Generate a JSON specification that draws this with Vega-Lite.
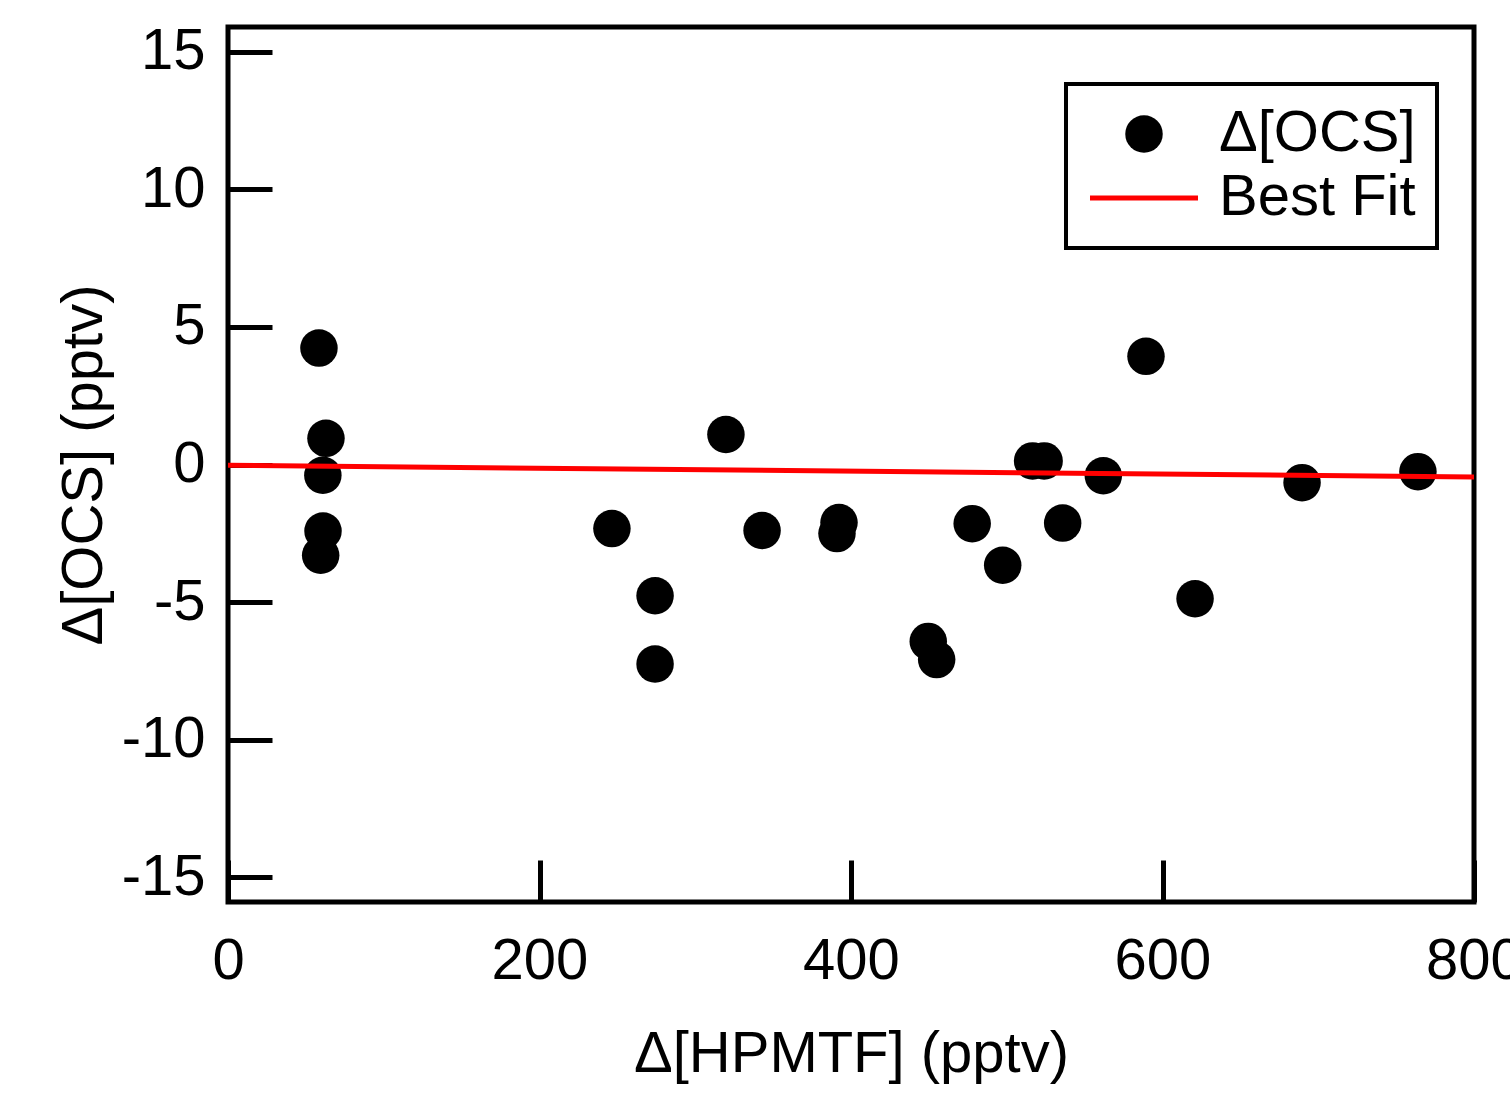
{
  "$schema": "https://vega.github.io/schema/vega-lite/v6.json",
  "width": 1246,
  "height": 875,
  "autosize": {"type": "none"},
  "padding": {"left": 228, "top": 27, "right": 36, "bottom": 192},
  "background": "white",
  "config": {
    "view": {"stroke": "black", "strokeWidth": 5},
    "font": "Liberation Sans",
    "axis": {
      "domain": false,
      "grid": false,
      "tickColor": "black",
      "tickWidth": 5,
      "labelColor": "black",
      "labelFontSize": 58,
      "labelFlush": false,
      "labelOverlap": false,
      "labelBound": false,
      "titleColor": "black",
      "titleFontSize": 58,
      "titleFontWeight": "normal"
    },
    "legend": {
      "orient": "none",
      "legendX": 838,
      "legendY": 57,
      "strokeColor": "black",
      "strokeWidth": 4,
      "fillColor": "white",
      "padding": 21,
      "rowPadding": 6,
      "labelFontSize": 58,
      "labelColor": "black",
      "labelLimit": 500,
      "labelOffset": 46,
      "symbolSize": 11664,
      "symbolOffset": 28
    }
  },
  "datasets": {
    "points": [
      {"hpmtf": 58.4, "ocs": 4.23},
      {"hpmtf": 62.9, "ocs": 0.95},
      {"hpmtf": 60.9, "ocs": -0.39},
      {"hpmtf": 61.0, "ocs": -2.42},
      {"hpmtf": 59.5, "ocs": -3.30},
      {"hpmtf": 246.5, "ocs": -2.33},
      {"hpmtf": 274.2, "ocs": -4.77},
      {"hpmtf": 274.2, "ocs": -7.25},
      {"hpmtf": 319.7, "ocs": 1.09},
      {"hpmtf": 342.9, "ocs": -2.40},
      {"hpmtf": 392.3, "ocs": -2.11},
      {"hpmtf": 391.0, "ocs": -2.51},
      {"hpmtf": 449.6, "ocs": -6.43},
      {"hpmtf": 455.0, "ocs": -7.09},
      {"hpmtf": 477.8, "ocs": -2.15},
      {"hpmtf": 497.4, "ocs": -3.66},
      {"hpmtf": 516.6, "ocs": 0.13},
      {"hpmtf": 524.0, "ocs": 0.13},
      {"hpmtf": 535.9, "ocs": -2.13},
      {"hpmtf": 562.0, "ocs": -0.41},
      {"hpmtf": 589.4, "ocs": 3.93},
      {"hpmtf": 620.9, "ocs": -4.88},
      {"hpmtf": 689.6, "ocs": -0.66},
      {"hpmtf": 764.0, "ocs": -0.26}
    ],
    "fit": [
      {"hpmtf": 0, "ocs": -0.03},
      {"hpmtf": 800, "ocs": -0.45}
    ]
  },
  "layer": [
    {
      "data": {"name": "points"},
      "mark": {"type": "point", "filled": true, "size": 1406, "opacity": 1, "strokeWidth": 0},
      "encoding": {
        "x": {
          "field": "hpmtf", "type": "quantitative",
          "scale": {"domain": [0, 800], "nice": false, "zero": false},
          "axis": {
            "values": [0, 200, 400, 600, 800],
            "tickSize": -42,
            "labelPadding": 72,
            "title": "Δ[HPMTF] (pptv)",
            "titlePadding": 35
          }
        },
        "y": {
          "field": "ocs", "type": "quantitative",
          "scale": {"domain": [-15.9, 15.9], "nice": false, "zero": false},
          "axis": {
            "values": [-15, -10, -5, 0, 5, 10, 15],
            "tickSize": -44,
            "labelPadding": 67,
            "labelExpr": "replace(datum.label, '\u2212', '-')",
            "title": "Δ[OCS] (pptv)",
            "titlePadding": 8
          }
        },
        "color": {
          "datum": "Δ[OCS]",
          "type": "nominal",
          "scale": {"domain": ["Δ[OCS]", "Best Fit"], "range": ["black", "red"]},
          "legend": {
            "title": null,
            "encode": {
              "symbols": {
                "update": {
                  "shape": {"signal": "datum.value === 'Best Fit' ? 'stroke' : 'circle'"},
                  "size": {"signal": "datum.value === 'Best Fit' ? 11664 : 1406"},
                  "fill": {"signal": "datum.value === 'Best Fit' ? 'transparent' : 'black'"},
                  "stroke": {"signal": "datum.value === 'Best Fit' ? 'red' : 'black'"},
                  "strokeWidth": {"signal": "datum.value === 'Best Fit' ? 5 : 0"},
                  "opacity": {"value": 1}
                }
              }
            }
          }
        }
      }
    },
    {
      "data": {"name": "fit"},
      "mark": {"type": "line", "strokeWidth": 5},
      "encoding": {
        "x": {"field": "hpmtf", "type": "quantitative"},
        "y": {"field": "ocs", "type": "quantitative"},
        "color": {
          "datum": "Best Fit",
          "type": "nominal",
          "legend": {
            "title": null,
            "encode": {
              "symbols": {
                "update": {
                  "shape": {"signal": "datum.value === 'Best Fit' ? 'stroke' : 'circle'"},
                  "size": {"signal": "datum.value === 'Best Fit' ? 11664 : 1406"},
                  "fill": {"signal": "datum.value === 'Best Fit' ? 'transparent' : 'black'"},
                  "stroke": {"signal": "datum.value === 'Best Fit' ? 'red' : 'black'"},
                  "strokeWidth": {"signal": "datum.value === 'Best Fit' ? 5 : 0"},
                  "opacity": {"value": 1}
                }
              }
            }
          }
        }
      }
    }
  ]
}
